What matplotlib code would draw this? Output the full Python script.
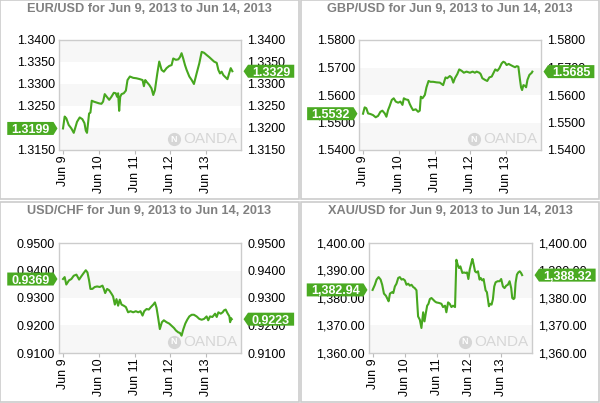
import matplotlib
matplotlib.use('Agg')
import matplotlib.pyplot as plt
import matplotlib.patches as mpatches
import matplotlib.transforms as mtransforms
from matplotlib.ticker import FuncFormatter

plt.rcParams['font.family'] = ['Liberation Sans', 'DejaVu Sans']

# 数据：从6月9日0点起的小时数 / 价格
day_ticks = [0, 24, 48, 72, 96]
day_labels = ['Jun 9', 'Jun 10', 'Jun 11', 'Jun 12', 'Jun 13']

eur_hours = [0, 1.1, 2.2, 3.8, 5.6, 7.2, 8.1, 9.4, 11.2, 13.0, 14.4, 15.3, 16.1, 16.8, 17.5, 18.4,
             19.3, 20.6, 22.4, 24.2, 25.8, 26.9, 28.0, 29.6, 31.0, 32.5, 34.1, 35.4, 36.3, 37.0, 37.7,
             38.4, 39.3, 40.8, 42.2, 43.3, 44.9, 47.1, 49.3, 51.6, 53.4, 54.3, 55.2, 56.1, 57.9, 59.4,
             60.6, 61.7, 63.3, 64.6, 66.2, 67.7, 69.5, 71.3, 72.9, 74.0, 75.8, 77.4, 78.5, 79.6, 80.7,
             81.9, 83.0, 84.8, 86.4, 87.9, 89.7, 91.5, 93.1, 94.7, 96.4, 98.2, 99.8, 101.4, 103.2,
             104.3, 105.4, 106.5, 107.7, 109.2, 110.4, 111.7, 112.6, 113.7]
eur_price = [1.3199, 1.3226, 1.3222, 1.3207, 1.3199, 1.3189, 1.3199, 1.3214, 1.3224, 1.3220, 1.3211,
             1.3194, 1.3189, 1.3211, 1.3233, 1.3235, 1.3262, 1.3260, 1.3258, 1.3256, 1.3255, 1.3260,
             1.3277, 1.3270, 1.3264, 1.3271, 1.3280, 1.3279, 1.3271, 1.3279, 1.3239, 1.3271, 1.3277,
             1.3279, 1.3285, 1.3309, 1.3317, 1.3314, 1.3313, 1.3311, 1.3309, 1.3295, 1.3309, 1.3305,
             1.3298, 1.3290, 1.3275, 1.3286, 1.3324, 1.3351, 1.3332, 1.3328, 1.3336, 1.3341, 1.3343,
             1.3358, 1.3355, 1.3356, 1.3361, 1.3370, 1.3358, 1.3343, 1.3332, 1.3317, 1.3309, 1.3300,
             1.3324, 1.3347, 1.3373, 1.3371, 1.3366, 1.3361, 1.3356, 1.3351, 1.3348, 1.3332, 1.3324,
             1.3328, 1.3320, 1.3315, 1.3311, 1.3326, 1.3336, 1.3329]

gbp_hours = [0, 1.1, 2.2, 3.4, 4.9, 6.7, 8.5, 10.1, 11.7, 13.0, 14.6, 15.7, 16.8, 17.9, 19.3, 20.6,
             22.0, 23.6, 25.1, 26.5, 27.4, 28.7, 30.3, 31.4, 32.5, 33.6, 35.4, 37.0, 38.1, 38.8, 39.9,
             41.5, 42.6, 44.0, 45.3, 47.1, 49.3, 51.6, 53.8, 55.4, 56.5, 58.3, 59.4, 60.6, 61.7, 63.3,
             64.6, 66.2, 67.7, 69.5, 71.8, 73.6, 75.1, 76.3, 78.1, 79.0, 80.1, 81.9, 83.4, 84.8, 86.4,
             87.5, 88.8, 90.2, 91.5, 93.1, 94.2, 95.3, 96.4, 97.8, 99.1, 100.5, 102.1, 103.2, 104.3,
             105.4, 106.1, 106.8, 107.7, 108.8, 109.5, 110.4, 111.7, 113.3, 113.7]
gbp_price = [1.5532, 1.5555, 1.5552, 1.5533, 1.5531, 1.5527, 1.5519, 1.5524, 1.5539, 1.5543, 1.5533,
             1.5521, 1.5545, 1.5560, 1.5582, 1.5588, 1.5576, 1.5572, 1.5576, 1.5564, 1.5588, 1.5584,
             1.5582, 1.5567, 1.5555, 1.5545, 1.5548, 1.5539, 1.5543, 1.5594, 1.5588, 1.5600, 1.5628,
             1.5651, 1.5648, 1.5648, 1.5646, 1.5645, 1.5636, 1.5664, 1.5661, 1.5669, 1.5664, 1.5645,
             1.5661, 1.5676, 1.5693, 1.5688, 1.5681, 1.5685, 1.5681, 1.5685, 1.5681, 1.5685, 1.5681,
             1.5676, 1.5661, 1.5655, 1.5651, 1.5664, 1.5667, 1.5679, 1.5693, 1.5688, 1.5697, 1.5715,
             1.5721, 1.5718, 1.5709, 1.5713, 1.5709, 1.5705, 1.5701, 1.5705, 1.5703, 1.5655, 1.5628,
             1.5618, 1.5636, 1.5633, 1.5628, 1.5655, 1.5673, 1.5681, 1.5685]

chf_hours = [0, 1.1, 2.2, 4.0, 5.6, 7.2, 9.0, 10.8, 12.3, 13.9, 15.3, 16.4, 17.5, 18.4, 19.7, 21.3,
             22.9, 24.7, 26.5, 27.4, 28.3, 29.6, 31.0, 32.5, 33.6, 34.8, 35.9, 37.0, 38.1, 39.3, 40.8,
             42.2, 43.7, 45.3, 47.1, 48.9, 50.5, 52.0, 53.4, 54.5, 56.1, 57.6, 59.0, 60.6, 61.7, 62.8,
             63.9, 65.0, 66.4, 67.7, 69.5, 71.3, 72.9, 74.5, 75.8, 77.4, 78.5, 79.6, 80.7, 82.1, 83.4,
             84.8, 86.4, 87.9, 89.7, 91.5, 93.1, 94.7, 96.4, 97.5, 98.7, 100.3, 102.1, 103.2, 104.3,
             105.9, 107.2, 108.1, 109.2, 110.4, 111.7, 112.2, 112.8, 113.3]
chf_price = [0.9369, 0.9376, 0.9349, 0.9364, 0.9369, 0.9381, 0.9385, 0.9367, 0.9379, 0.9391, 0.9401,
             0.9393, 0.9364, 0.9333, 0.9333, 0.9340, 0.9342, 0.9340, 0.9345, 0.9333, 0.9318, 0.9333,
             0.9328, 0.9316, 0.9306, 0.9276, 0.9296, 0.9272, 0.9294, 0.9276, 0.9272, 0.9267, 0.9248,
             0.9252, 0.9248, 0.9252, 0.9248, 0.9252, 0.9236, 0.9252, 0.9260, 0.9258, 0.9267, 0.9276,
             0.9284, 0.9264, 0.9227, 0.9187, 0.9212, 0.9219, 0.9212, 0.9207, 0.9199, 0.9191, 0.9182,
             0.9175, 0.9173, 0.9163, 0.9185, 0.9207, 0.9221, 0.9233, 0.9239, 0.9239, 0.9233, 0.9224,
             0.9221, 0.9224, 0.9233, 0.9219, 0.9233, 0.9231, 0.9243, 0.9231, 0.9248, 0.9243, 0.9248,
             0.9255, 0.9258, 0.9245, 0.9233, 0.9212, 0.9227, 0.9223]

xau_hours = [0, 1.7, 3.0, 4.5, 6.0, 7.2, 8.5, 10.0, 11.2, 12.0, 13.0, 14.5, 15.5, 16.7, 17.9, 19.2,
             20.4, 21.7, 22.9, 24.2, 25.4, 26.7, 27.9, 29.2, 30.4, 31.6, 32.9, 33.4, 34.1, 35.4, 36.6,
             37.9, 38.9, 39.9, 40.9, 41.9, 42.9, 44.1, 45.4, 46.6, 47.8, 49.8, 51.6, 52.8, 54.3, 55.3,
             56.6, 57.8, 59.1, 60.3, 61.8, 62.8, 63.8, 64.8, 65.8, 67.3, 68.5, 69.8, 70.8, 71.8, 72.8,
             74.0, 74.8, 75.8, 76.8, 77.8, 79.0, 80.2, 81.0, 82.2, 83.2, 84.7, 85.7, 86.5, 87.2, 88.2,
             89.2, 90.2, 91.2, 92.2, 93.7, 95.2, 96.4, 97.7, 98.9, 100.2, 101.4, 102.7, 103.9, 104.7,
             105.7, 106.4, 107.2, 108.2, 109.2, 110.3, 111.3, 112.1]
xau_price = [1382.94, 1384.8, 1386.7, 1387.6, 1386.7, 1384.8, 1381.6, 1380.8, 1379.6, 1378.8, 1381.6,
             1382.1, 1381.8, 1384.2, 1385.2, 1387.3, 1387.6, 1386.7, 1386.9, 1386.4, 1384.8, 1385.2,
             1384.5, 1384.8, 1384.0, 1383.6, 1382.8, 1378.8, 1373.3, 1372.1, 1369.1, 1374.8, 1371.5,
             1374.5, 1377.2, 1377.9, 1379.6, 1380.0, 1379.4, 1378.8, 1378.4, 1378.2, 1377.9, 1376.7,
             1377.2, 1374.8, 1378.4, 1377.9, 1376.7, 1377.2, 1376.7, 1393.9, 1392.1, 1390.9, 1391.5,
             1389.1, 1389.3, 1389.1, 1389.3, 1386.9, 1390.3, 1392.7, 1394.2, 1392.1, 1389.7, 1389.3,
             1389.7, 1386.7, 1387.3, 1386.4, 1386.9, 1382.8, 1382.1, 1379.4, 1377.0, 1377.9, 1377.6,
             1379.6, 1384.2, 1385.7, 1386.1, 1386.1, 1386.9, 1384.2, 1383.6, 1384.5, 1384.8, 1386.1,
             1383.6, 1380.0, 1379.6, 1380.0, 1385.5, 1388.5, 1389.3, 1389.7, 1389.1, 1388.32]

eur_ticks = [1.3150, 1.3200, 1.3250, 1.3300, 1.3350, 1.3400]
gbp_ticks = [1.5400, 1.5500, 1.5600, 1.5700, 1.5800]
chf_ticks = [0.9100, 0.9200, 0.9300, 0.9400, 0.9500]
xau_ticks = [1360, 1370, 1380, 1390, 1400]

W, H = 600, 403
GREEN = '#47a71f'
TAG = '#4aaa22'

fig = plt.figure(figsize=(W / 100, H / 100), dpi=100)
fig.patch.set_facecolor('white')
ident = mtransforms.IdentityTransform()


def fig_box(left, top, right, bottom):
    return [left / W, 1 - bottom / H, (right - left) / W, (bottom - top) / H]


def tag(ax, x, v, text, side):
    # 绿色价格标签（显示坐标 = 像素，原点左下）
    _, py = ax.transData.transform((x, v))
    bb = ax.get_window_extent()
    t = fig.text(0, py, text, transform=ident, color='white', fontsize=9,
                 fontweight='bold', ha='left', va='center_baseline', zorder=11)
    tw = t.get_window_extent(fig.canvas.get_renderer()).width
    hh = 6.5
    if side == 'left':
        tip = bb.x0 - 1.5
        br = bb.x0 - 5.5
        bl = br - tw - 8
        pts = [(bl, py - hh), (br, py - hh), (tip, py), (br, py + hh), (bl, py + hh)]
        t.set_x(bl + 4)
    else:
        tip = bb.x1 + 2.5
        bl = bb.x1 + 7
        br = bl + tw + 8
        pts = [(tip, py), (bl, py - hh), (br, py - hh), (br, py + hh), (bl, py + hh)]
        t.set_x(bl + 4)
    fig.patches.append(mpatches.Polygon(pts, closed=True, transform=ident, fc=TAG,
                                        ec='none', zorder=10, figure=fig))


def draw_panel(px0, py0, px1, py1, axbox, title, hours, price, yticks, fmt):
    # 面板外框和标题
    fig.patches.append(mpatches.Rectangle((px0 / W, 1 - py1 / H), (px1 - px0) / W, (py1 - py0) / H,
                                          transform=fig.transFigure, fill=False, ec='#cccccc',
                                          lw=1.2, figure=fig))
    fig.text((px0 + px1) / 2 / W, 1 - (py0 + 9) / H, title, ha='center', va='center',
             fontsize=9.2, fontweight='bold', color='#808080')

    ax = fig.add_axes(fig_box(*axbox))
    for i in range(0, len(yticks) - 1, 2):
        ax.axhspan(yticks[i], yticks[i + 1], color='#f7f7f7', lw=0, zorder=0)
    ax.plot(hours, price, color=GREEN, lw=1.5, zorder=3, solid_joinstyle='round')
    ax.set_xlim(-2.7, 119.5)
    ax.set_ylim(yticks[0], yticks[-1])
    ax.set_yticks(yticks)
    ax.yaxis.set_major_formatter(FuncFormatter(lambda v, p: fmt.format(v)))
    ax.tick_params(axis='y', length=0, labelsize=9, pad=3)
    ax.set_xticks(day_ticks)
    ax.set_xticklabels(day_labels, rotation=90)
    ax.tick_params(axis='x', length=3, width=0.8, color='#bbbbbb', labelsize=9, pad=1)
    for s in ax.spines.values():
        s.set_color('#cccccc')
        s.set_linewidth(1)

    # 右侧刻度
    ax2 = ax.twinx()
    ax2.set_ylim(yticks[0], yticks[-1])
    ax2.set_yticks(yticks)
    ax2.yaxis.set_major_formatter(FuncFormatter(lambda v, p: fmt.format(v)))
    ax2.tick_params(axis='y', length=0, labelsize=9, pad=4.5)
    for s in ax2.spines.values():
        s.set_visible(False)

    # OANDA 水印
    ax.annotate('OANDA', xy=(1, 0), xycoords='axes fraction', xytext=(-4, 11),
                textcoords='offset pixels', ha='right', va='center', fontsize=11,
                color='#d6d6d6', zorder=2)
    logo = ax.transAxes + mtransforms.ScaledTranslation(-0.67, 0.11, fig.dpi_scale_trans)
    ax.plot([1], [0], marker='o', ms=9.5, color='#d6d6d6', mec='none', transform=logo,
            clip_on=False, zorder=2)
    ax.annotate('N', xy=(1, 0), xycoords='axes fraction', xytext=(-67, 11),
                textcoords='offset pixels', ha='center', va='center', fontsize=6.5,
                fontweight='bold', color='white', zorder=2)

    tag(ax, hours[0], price[0], fmt.format(price[0]), 'left')
    tag(ax, hours[-1], price[-1], fmt.format(price[-1]), 'right')
    return ax


draw_panel(0, 0, 299, 199, (59, 40, 241, 150), 'EUR/USD for Jun 9, 2013 to Jun 14, 2013',
           eur_hours, eur_price, eur_ticks, '{:.4f}')
draw_panel(301, 0, 599, 199, (359, 40, 541, 150), 'GBP/USD for Jun 9, 2013 to Jun 14, 2013',
           gbp_hours, gbp_price, gbp_ticks, '{:.4f}')
draw_panel(0, 202, 299, 402, (59, 243, 241, 353), 'USD/CHF for Jun 9, 2013 to Jun 14, 2013',
           chf_hours, chf_price, chf_ticks, '{:.4f}')
draw_panel(301, 202, 599, 402, (369, 243, 532, 353), 'XAU/USD for Jun 9, 2013 to Jun 14, 2013',
           xau_hours, xau_price, xau_ticks, '{:,.2f}')

fig.savefig('out.png', dpi=100, facecolor='white')
